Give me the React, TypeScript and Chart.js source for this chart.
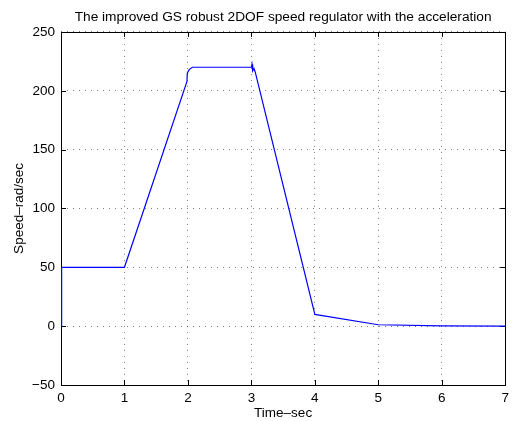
import React, { useEffect, useRef } from "react";
import { Chart, registerables } from "chart.js";

Chart.register(...registerables);

const titleText = "The improved GS robust 2DOF speed regulator with the acceleration";
const xLabel = "Time–sec";
const yLabel = "Speed–rad/sec";

const timeSec = [0, 0.01, 1.0, 1.985, 1.99, 2.02, 2.07, 3.0, 3.01, 3.02, 3.04, 3.06, 4.0, 5.0, 6.0, 7.0];
const speed = [0, 50, 50, 208, 215, 218, 220, 220, 222.5, 217, 219, 216, 10, 1.2, 0.2, 0];

const xTicks = [0, 1, 2, 3, 4, 5, 6, 7];
const yTicks = [-50, 0, 50, 100, 150, 200, 250];

const FONT = "'Liberation Sans', Arial, Helvetica, sans-serif";

const framePlugin = {
  id: "frame",
  beforeDatasetsDraw(chart: any) {
    const { ctx, chartArea, scales } = chart;
    const { left, right, top, bottom } = chartArea;
    ctx.save();
    ctx.strokeStyle = "#000";
    ctx.lineWidth = 1;
    ctx.beginPath();
    const tl = 5;
    for (const v of xTicks) {
      const px = Math.round(scales.x.getPixelForValue(v)) + 0.5;
      ctx.moveTo(px, bottom);
      ctx.lineTo(px, bottom - tl);
      ctx.moveTo(px, top);
      ctx.lineTo(px, top + tl);
    }
    for (const v of yTicks) {
      const py = Math.round(scales.y.getPixelForValue(v)) + 0.5;
      ctx.moveTo(left, py);
      ctx.lineTo(left + tl, py);
      ctx.moveTo(right, py);
      ctx.lineTo(right - tl, py);
    }
    ctx.stroke();
    ctx.strokeRect(Math.round(left) + 0.5, Math.round(top) + 0.5, Math.round(right - left), Math.round(bottom - top));
    ctx.restore();
  },
};

export default function App() {
  const ref = useRef<HTMLCanvasElement | null>(null);
  useEffect(() => {
    if (!ref.current) return;
    const data = timeSec.map((t, i) => ({ x: t, y: speed[i] }));
    const chart = new Chart(ref.current, {
      type: "line",
      data: {
        datasets: [
          {
            data,
            borderColor: "#0000ff",
            borderWidth: 1.2,
            pointRadius: 0,
            tension: 0,
            fill: false,
            clip: 2,
          },
        ],
      },
      options: {
        animation: false,
        responsive: false,
        events: [],
        layout: { padding: { left: 0, right: 5, top: 0, bottom: 0 } },
        plugins: {
          legend: { display: false },
          tooltip: { enabled: false },
          title: {
            display: true,
            fullSize: false,
            text: titleText,
            color: "#000",
            font: { family: FONT, size: 13.7, weight: "normal" },
            padding: { top: 9, bottom: 6.5 },
          },
        },
        scales: {
          x: {
            type: "linear",
            min: 0,
            max: 7,
            afterBuildTicks: (s: any) => {
              s.ticks = xTicks.map((v) => ({ value: v }));
            },
            afterFit: (s: any) => {
              s.height = 36;
            },
            ticks: {
              color: "#000",
              font: { family: FONT, size: 13.5 },
              padding: 5,
              maxRotation: 0,
            },
            grid: { color: "rgba(0,0,0,0.5)", lineWidth: 1, drawTicks: false },
            border: { display: false, dash: [1, 5] },
            title: {
              display: true,
              text: xLabel,
              color: "#000",
              font: { family: FONT, size: 13.5 },
              padding: { top: 0, bottom: 0 },
            },
          },
          y: {
            type: "linear",
            min: -50,
            max: 250,
            afterBuildTicks: (s: any) => {
              s.ticks = yTicks.map((v) => ({ value: v }));
            },
            afterFit: (s: any) => {
              s.width = 61;
            },
            ticks: {
              color: "#000",
              font: { family: FONT, size: 13.5 },
              padding: 6,
              callback: (v: any) => (Number(v) < 0 ? "−" + Math.abs(Number(v)) : String(v)),
            },
            grid: { color: "rgba(0,0,0,0.5)", lineWidth: 1, drawTicks: false },
            border: { display: false, dash: [1, 5] },
            title: {
              display: true,
              text: yLabel,
              color: "#000",
              font: { family: FONT, size: 13.5 },
              padding: { top: 11, bottom: 0 },
            },
          },
        },
      },
      plugins: [framePlugin],
    } as any);
    return () => chart.destroy();
  }, []);
  return (
    <div style={{ position: "fixed", left: 0, top: 0, width: 514, height: 421, background: "#fff" }}>
      <canvas ref={ref} width={514} height={421} style={{ display: "block" }} />
    </div>
  );
}
